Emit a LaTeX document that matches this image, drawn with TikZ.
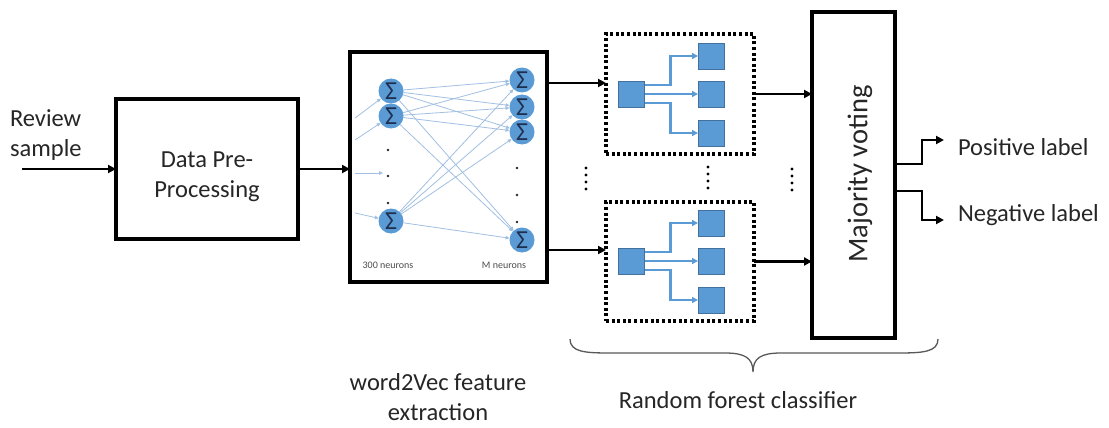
\documentclass[tikz,border=0pt]{standalone}
\usepackage{fontspec}
\setmainfont{Carlito}
\usetikzlibrary{arrows.meta}

\definecolor{neuron}{HTML}{5B9BD5}
\definecolor{sigmaink}{HTML}{1F2F4F}
\definecolor{wire}{HTML}{A2C0E2}
\definecolor{leafblue}{HTML}{5B9BD5}
\definecolor{leafedge}{HTML}{41719C}
\definecolor{ink}{HTML}{262626}
\definecolor{bracegray}{HTML}{595959}

\begin{document}
\begin{tikzpicture}[x=1pt,y=-1pt,
  every node/.style={inner sep=0pt, outer sep=0pt},
  bigtext/.style={font=\fontsize{24.5}{30}\selectfont, text=ink, align=center},
  smalltext/.style={font=\fontsize{10}{12}\selectfont, text=black!70},
  blockbox/.style={draw=black, line width=3.2pt, fill=white},
  flow/.style={draw=black, line width=2.5pt, -{Triangle[length=8pt,width=8pt]}},
  neuronnode/.style={circle, fill=neuron, minimum size=25pt,
    font=\fontsize{26}{26}\selectfont, text=sigmaink},
  wirearrow/.style={draw=wire, line width=0.8pt, -{Triangle[length=4pt,width=3.5pt]}},
  leaf/.style={rectangle, fill=leafblue, draw=leafedge, line width=0.6pt, minimum size=26pt},
  branch/.style={draw=leafblue, line width=2.2pt, -{Triangle[length=6pt,width=6pt]}},
  forestbox/.style={draw=black, line width=3.2pt, dash pattern=on 3pt off 2.6pt},
  nndot/.style={circle, fill=black!85, minimum size=2.8pt},
  gapdot/.style={circle, fill=black, minimum size=3.2pt},
]

% canvas
\fill[white] (0,0) rectangle (1109,428);
\useasboundingbox (0,0) rectangle (1109,428);

% ---- input and pre-processing ----
\node[bigtext, anchor=west, align=left] (review) at (10,135) {Review\\sample};
\coordinate (src) at (22,169);
\node[blockbox, minimum width=182pt, minimum height=140pt] (prep) at (207,169) {};
\node[bigtext] (preptext) at (207,177) {Data Pre-\\Processing};
\draw[flow] (src) -- (prep.west);

% ---- word2Vec network ----
\node[blockbox, line width=4pt, minimum width=197pt, minimum height=230pt] (nn) at (448.5,167) {};
\draw[flow] (prep.east) -- (prep.east -| nn.west);

\node[neuronnode] (L1) at (391,91)  {Σ};
\node[neuronnode] (L2) at (391,116) {Σ};
\node[neuronnode] (L3) at (391,221) {Σ};
\node[neuronnode] (R1) at (522,80)  {Σ};
\node[neuronnode] (R2) at (522,107) {Σ};
\node[neuronnode] (R3) at (522,132) {Σ};
\node[neuronnode] (R4) at (522,240) {Σ};

\foreach \l in {L1,L2,L3}
  \foreach \r in {R1,R2,R3,R4}
    \draw[wirearrow] (\l) -- (\r);

\coordinate (in1) at (355,118);
\coordinate (in2) at (355,140);
\coordinate (in3) at (355,173);
\coordinate (in3end) at (383,173);
\coordinate (in4) at (355,213);
\draw[wirearrow] (in1) -- (L1);
\draw[wirearrow] (in2) -- (L2);
\draw[wirearrow] (in3) -- (in3end);
\draw[wirearrow] (in4) -- (L3);

\foreach \yy in {150,176,203}
  \node[nndot] at (388,\yy) {};
\foreach \yy in {168,195,222}
  \node[nndot] at (517,\yy) {};

\node[smalltext] (lefttag) at (388,265) {300 neurons};
\node[smalltext] (righttag) at (504,265) {M neurons};

% ---- random forest trees ----
\node[forestbox, minimum width=148pt, minimum height=120pt] (rf1) at (680,94) {};
\node[forestbox, minimum width=148pt, minimum height=119pt] (rf2) at (680,261.5) {};

\foreach \k/\yc in {1/94,2/261}{
  \node[leaf] (root\k) at (631.5,\yc) {};
  \node[leaf] (leafa\k) at (711,\yc-38) {};
  \node[leaf] (leafb\k) at (711,\yc) {};
  \node[leaf] (leafc\k) at (711,\yc+39) {};
  \draw[branch] ([yshift=9pt]root\k.east) -- ++(26,0) |- (leafa\k.west);
  \draw[branch] (root\k.east) -- (leafb\k.west);
  \draw[branch] ([yshift=-9pt]root\k.east) -- ++(26,0) |- (leafc\k.west);
}

\draw[flow] (nn.east |- 0,83) -- (rf1.west |- 0,83);
\draw[flow] (nn.east |- 0,250) -- (rf2.west |- 0,250);

% elided trees
\foreach \xx/\ys in {586/168, 708/167, 792/169}
  \foreach \i in {0,1,2,3}
    \node[gapdot] at (\xx,\ys+7*\i) {};

% ---- majority voting ----
\node[blockbox, line width=3.5pt, minimum width=83pt, minimum height=326pt] (maj) at (853.5,175) {};
\node[font=\fontsize{28.5}{30}\selectfont, text=ink, rotate=90] (majtext) at (860,174) {Majority voting};

\draw[flow] (rf1.east) -- (rf1.east -| maj.west);
\draw[flow] (rf2.east) -- (rf2.east -| maj.west);

\node[bigtext, anchor=west] (pos) at (958,147) {Positive label};
\node[bigtext, anchor=west] (neg) at (958,215) {Negative label};
\coordinate (postip) at (944,140);
\coordinate (negtip) at (944,220);
\draw[flow] (maj.east |- 0,164) -- (922,164) |- (postip);
\draw[flow] (maj.east |- 0,191) -- (922,191) |- (negtip);

% ---- captions ----
\coordinate (bl) at (570,339);
\coordinate (tip) at (753,372);
\coordinate (br) at (938,339);
\draw[bracegray, line width=1.3pt]
  (bl) .. controls (570,352) and (585,353) .. (610,353)
  -- (725,353) .. controls (745,353) and (753,358) .. (tip)
  .. controls (753,358) and (761,353) .. (781,353)
  -- (898,353) .. controls (923,353) and (938,352) .. (br);

\node[bigtext] (w2v) at (438,397) {word2Vec feature\\extraction};
\node[bigtext] (rfc) at (738,400) {Random forest classifier};

\end{tikzpicture}
\end{document}
